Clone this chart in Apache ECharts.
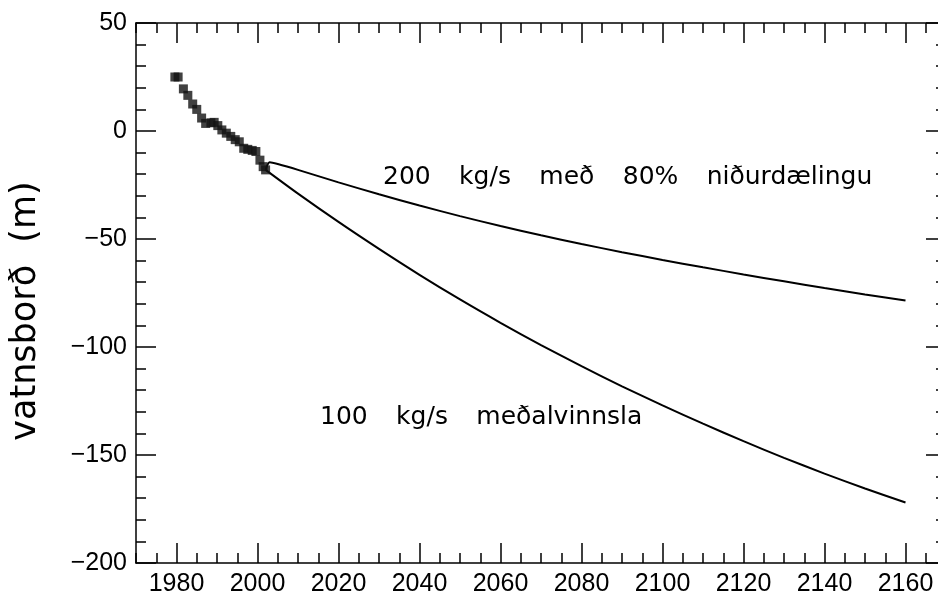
<!DOCTYPE html>
<html>
<head>
<meta charset="utf-8">
<script src="https://cdn.jsdelivr.net/npm/echarts@6/dist/echarts.min.js"></script>
<style>
  html, body { margin: 0; padding: 0; background: #fff; }
  #chart { width: 938px; height: 599px; }
</style>
</head>
<body>
<div id="chart"></div>
<script>
// measured water level (m)
var obsYears = [1979.6, 1980.4, 1981.7, 1982.8, 1984.0, 1985.0, 1986.2, 1987.2, 1988.5, 1989.3, 1990.2, 1991.2,
  1992.3, 1993.4, 1994.5, 1995.5, 1996.6, 1997.6, 1998.7, 1999.6, 2000.6, 2001.4, 2002.0];
var obsLevel = [25, 25, 19.5, 16.5, 12.5, 10, 6, 3.5, 3.8, 4, 2.5, 0.5,
  -1, -2.5, -4, -5, -8, -8.5, -9, -9.5, -13.5, -16.5, -18];

// forecast 200 kg/s with 80% reinjection
var reinjYears = [2002, 2003, 2005, 2010, 2020, 2030, 2040, 2050, 2060, 2070, 2080, 2090, 2100, 2110, 2120, 2130, 2140, 2150, 2160];
var reinjLevel = [-18, -14.5, -15.3, -18, -23.8, -29.3, -34.5, -39.4, -44, -48.3, -52.3, -56.1, -59.7, -63.1, -66.4, -69.6, -72.7, -75.7, -78.5];

// forecast 100 kg/s average production
var prodYears = [2002, 2010, 2020, 2030, 2040, 2050, 2060, 2070, 2080, 2090, 2100, 2110, 2120, 2130, 2140, 2150, 2160];
var prodLevel = [-18, -29, -42.1, -54.6, -66.6, -78, -88.8, -99.1, -108.9, -118.2, -127, -135.5, -143.6, -151.3, -158.6, -165.5, -172];

var xMajor = [1980, 2000, 2020, 2040, 2060, 2080, 2100, 2120, 2140, 2160];
var yMajor = [-200, -150, -100, -50, 0, 50];

function pairs(xs, ys) {
  return xs.map(function (x, i) { return [x, ys[i]]; });
}

var chart = echarts.init(document.getElementById('chart'));

var black = '#000';
var tickFont = { color: black, fontSize: 25, fontFamily: 'Liberation Sans, Arial, sans-serif' };
var noteFont = '25px "DejaVu Sans", sans-serif';

function xAx(pos, major) {
  var ax = {
    type: 'value', position: pos, min: 1970, max: 2170,
    axisLine: { show: !major, onZero: false, lineStyle: { color: black, width: 1.5 } },
    axisTick: { inside: true, length: major ? 20 : 10, lineStyle: { color: black, width: 1.5 } },
    axisLabel: { show: false },
    splitLine: { show: false }
  };
  if (major) ax.axisTick.customValues = xMajor;
  else ax.interval = 5;
  if (pos === 'bottom' && !major) {
    ax.axisLabel = Object.assign({
      show: true, margin: 9, customValues: xMajor,
      formatter: function (v) { return String(v); }
    }, tickFont);
  }
  return ax;
}

function yAx(pos, major) {
  var ax = {
    type: 'value', position: pos, min: -200, max: 50,
    axisLine: { show: !major, onZero: false, lineStyle: { color: black, width: 1.5 } },
    axisTick: { inside: true, length: major ? 20 : 10, lineStyle: { color: black, width: 1.5 } },
    axisLabel: { show: false },
    splitLine: { show: false }
  };
  if (major) ax.axisTick.customValues = yMajor;
  else ax.interval = 10;
  if (pos === 'left' && !major) {
    ax.axisLabel = Object.assign({
      show: true, margin: 9, customValues: yMajor,
      formatter: function (v) { return v < 0 ? '\u2212' + Math.abs(v) : String(v); }
    }, tickFont);
  }
  return ax;
}

var gap = '\u2002  ';

var option = {
  animation: false,
  backgroundColor: '#fff',
  grid: { left: 136, right: -8, top: 23, bottom: 36, containLabel: false, outerBoundsMode: 'none' },
  xAxis: [xAx('bottom', false), xAx('bottom', true), xAx('top', false), xAx('top', true)],
  yAxis: [yAx('left', false), yAx('left', true), yAx('right', false), yAx('right', true)],
  graphic: [
    {
      type: 'text', x: 26, y: 311, rotation: Math.PI / 2,
      style: { text: 'vatnsborð  (m)', font: '35px "DejaVu Sans", sans-serif', fill: black,
        textAlign: 'center', textVerticalAlign: 'middle' }
    },
    {
      type: 'text', x: 383, y: 177,
      style: { text: ['200', 'kg/s', 'með', '80%', 'niðurdælingu'].join(gap), font: noteFont, fill: black,
        textAlign: 'left', textVerticalAlign: 'middle' }
    },
    {
      type: 'text', x: 320, y: 417,
      style: { text: ['100', 'kg/s', 'meðalvinnsla'].join(gap), font: noteFont, fill: black,
        textAlign: 'left', textVerticalAlign: 'middle' }
    }
  ],
  series: [
    {
      type: 'line', data: pairs(reinjYears, reinjLevel), showSymbol: false, smooth: 0.25,
      lineStyle: { color: black, width: 2 }, z: 2
    },
    {
      type: 'line', data: pairs(prodYears, prodLevel), showSymbol: false, smooth: 0.25,
      lineStyle: { color: black, width: 2 }, z: 2
    },
    {
      type: 'scatter', data: pairs(obsYears, obsLevel), symbol: 'rect', symbolSize: 9,
      itemStyle: { color: '#111' }, z: 3
    }
  ]
};

chart.setOption(option);
</script>
</body>
</html>
